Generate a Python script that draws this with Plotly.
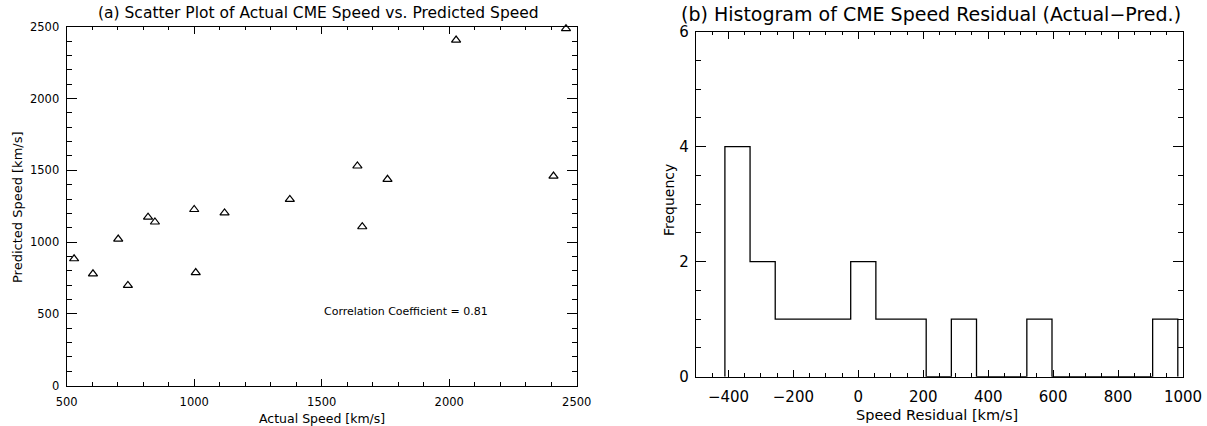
import plotly.graph_objects as go

# ---- Data ----
actual_speed = [529, 603, 702, 740, 819, 846, 1000, 1006, 1119, 1375, 1640, 1659, 1758, 2027, 2409, 2458]
predicted_speed = [884, 779, 1021, 698, 1174, 1140, 1227, 788, 1203, 1297, 1530, 1107, 1437, 2407, 1460, 2486]

hist_start = -411.0
hist_binsize = 77.5
hist_counts = [4, 2, 1, 1, 1, 2, 1, 1, 0, 1, 0, 0, 1, 0, 0, 0, 0, 1]

corr_text = "Correlation Coefficient = 0.81"
corr_pos = (1500, 516)

W, H = 1207, 426
FONT = "DejaVu Sans"

# pixel boxes of the two plot areas (left, top, right, bottom)
boxA = (66.7, 26.7, 576.7, 385.7)
boxB = (696.0, 31.7, 1183.0, 376.7)


def xdom(b):
    return [b[0] / W, b[2] / W]


def ydom(b):
    return [(H - b[3]) / H, (H - b[1]) / H]


# histogram step outline
edges = [hist_start + i * hist_binsize for i in range(len(hist_counts) + 1)]
step_x = [edges[0]] + edges[:-1] + [edges[-1]]
step_y = [0] + hist_counts + [0]

fig = go.Figure()
fig.add_trace(go.Scatter(
    x=actual_speed, y=predicted_speed, mode="markers",
    marker=dict(symbol="triangle-up-open", size=8, color="black", line=dict(width=1.2, color="black")),
    xaxis="x", yaxis="y", showlegend=False, cliponaxis=False))
fig.add_trace(go.Scatter(
    x=step_x, y=step_y, mode="lines", line=dict(shape="hv", color="black", width=1.3),
    xaxis="x2", yaxis="y2", showlegend=False))
# empty traces that register the mirrored (top / right) tick axes
fig.add_trace(go.Scatter(x=[None], y=[None], xaxis="x3", yaxis="y3", showlegend=False, hoverinfo="skip"))
fig.add_trace(go.Scatter(x=[None], y=[None], xaxis="x4", yaxis="y4", showlegend=False, hoverinfo="skip"))

base = dict(showgrid=False, zeroline=False, automargin=False, ticks="inside",
            tickcolor="black", tickwidth=1)


def main_axis(dom, rng, tickvals, ticklen, minor_dtick, minor_t0, anchor, size, standoff, ticktext=None):
    d = dict(base, domain=dom, range=rng, tickvals=tickvals, ticklen=ticklen,
             minor=dict(dtick=minor_dtick, tick0=minor_t0, ticks="inside", ticklen=ticklen / 2,
                        tickcolor="black", tickwidth=1),
             anchor=anchor, showline=True, linecolor="black", linewidth=1.3, mirror=True,
             tickfont=dict(family=FONT, size=size, color="black"), ticklabelstandoff=standoff)
    if ticktext is not None:
        d["ticktext"] = ticktext
    return d


def mirror_axis(dom, rng, tickvals, ticklen, minor_dtick, minor_t0, anchor, side, overlay):
    return dict(base, domain=dom, range=rng, tickvals=tickvals, ticklen=ticklen,
                minor=dict(dtick=minor_dtick, tick0=minor_t0, ticks="inside", ticklen=ticklen / 2,
                           tickcolor="black", tickwidth=1),
                anchor=anchor, side=side, overlaying=overlay, showline=False, showticklabels=False)


fig.update_layout(
    width=W, height=H, margin=dict(l=0, r=0, t=0, b=0),
    paper_bgcolor="white", plot_bgcolor="white",
    xaxis=main_axis(xdom(boxA), [500, 2500], [500, 1000, 1500, 2000, 2500], 7, 100, 500, "y", 11.5, 5),
    yaxis=main_axis(ydom(boxA), [0, 2500], [0, 500, 1000, 1500, 2000, 2500], 10, 100, 0, "x", 11.5, 4),
    xaxis2=main_axis(xdom(boxB), [-500, 1000], [-400, -200, 0, 200, 400, 600, 800, 1000], 7, 50, -500, "y2", 15, 6,
                     ticktext=["\u2212400", "\u2212200", "0", "200", "400", "600", "800", "1000"]),
    yaxis2=main_axis(ydom(boxB), [0, 6], [0, 2, 4, 6], 10, 0.5, 0, "x2", 15, 3),
    xaxis3=mirror_axis(xdom(boxA), [500, 2500], [500, 1000, 1500, 2000, 2500], 7, 100, 500, "y3", "top", "x"),
    yaxis3=mirror_axis(ydom(boxA), [0, 2500], [0, 500, 1000, 1500, 2000, 2500], 10, 100, 0, "x3", "right", "y"),
    xaxis4=mirror_axis(xdom(boxB), [-500, 1000], [-400, -200, 0, 200, 400, 600, 800, 1000], 7, 50, -500, "y4", "top", "x2"),
    yaxis4=mirror_axis(ydom(boxB), [0, 6], [0, 2, 4, 6], 10, 0.5, 0, "x4", "right", "y2"),
)


def px_ann(text, xpx, ypx, size, angle=0, xanchor="center"):
    fig.add_annotation(text=text, x=xpx / W, y=1 - ypx / H, xref="paper", yref="paper",
                       showarrow=False, xanchor=xanchor, yanchor="middle", textangle=angle,
                       font=dict(family=FONT, size=size, color="black"))


px_ann("(a) Scatter Plot of Actual CME Speed vs. Predicted Speed", 318, 13, 15.5)
px_ann("(b) Histogram of CME Speed Residual (Actual\u2212Pred.)", 931, 14, 19)
px_ann("Actual Speed [km/s]", 322, 418, 12.5)
px_ann("Speed Residual [km/s]", 937, 415, 14.5)
px_ann("Predicted Speed [km/s]", 17, 207, 13, angle=-90)
px_ann("Frequency", 669, 200, 14, angle=-90)

fig.add_annotation(text=corr_text, x=corr_pos[0], y=corr_pos[1], xref="x", yref="y",
                   showarrow=False, xanchor="left", yanchor="middle",
                   font=dict(family=FONT, size=11, color="black"))

fig.write_html("out.html", config={"displayModeBar": False},
               post_script="document.body.style.margin='0';document.body.style.padding='0';"
                           "document.body.style.overflow='hidden';")
